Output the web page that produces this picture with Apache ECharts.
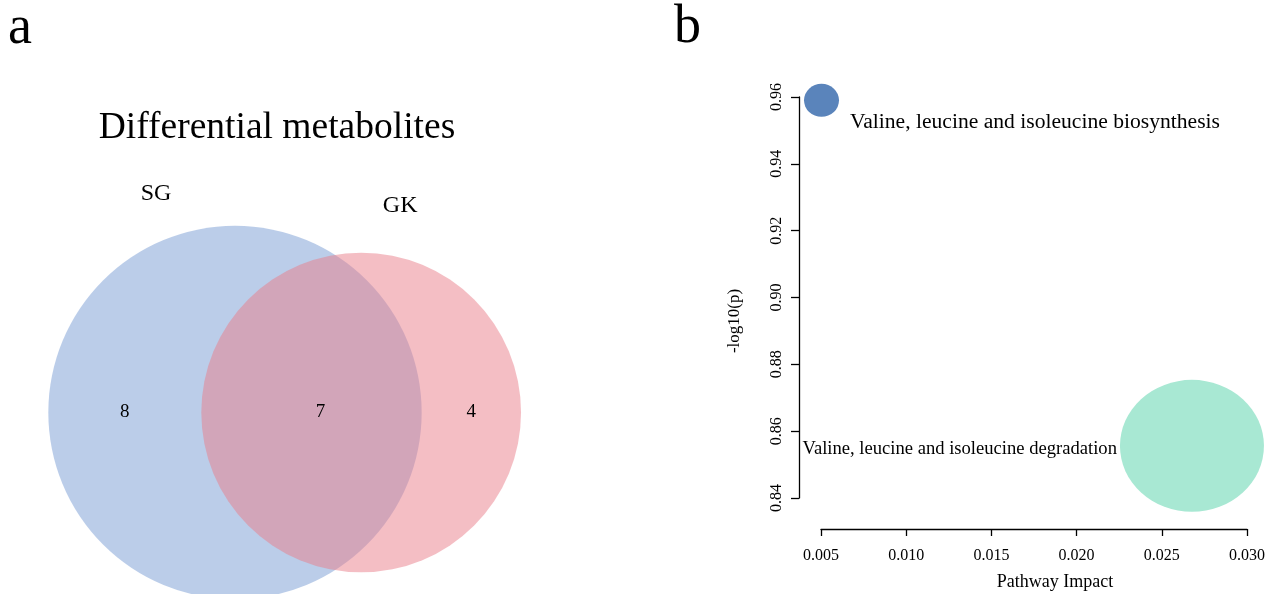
<!DOCTYPE html>
<html><head><meta charset="utf-8">
<script src="https://cdn.jsdelivr.net/npm/echarts@6/dist/echarts.min.js"></script>
<style>html,body{margin:0;padding:0;background:#fff}#c{width:1269px;height:594px}</style>
</head><body><div id="c"></div>
<script>
// ---------- Panel a: Venn diagram ----------
const setNames = ['SG', 'GK'];
const setSizes = [15, 11];          // total in each set
const overlapSize = 7;              // shared
const regionCounts = [8, 7, 4];     // SG only, both, GK only
const vennTitle = 'Differential metabolites';
const panelLetters = ['a', 'b'];

// ---------- Panel b: pathway bubble chart ----------
const pathways = ['Valine, leucine and isoleucine biosynthesis', 'Valine, leucine and isoleucine degradation'];
const pathwayImpact = [0.00503, 0.02677];
const negLog10P = [0.959, 0.8556];
const xTickLabels = ['0.005', '0.010', '0.015', '0.020', '0.025', '0.030'];
const yTickLabels = ['0.84', '0.86', '0.88', '0.90', '0.92', '0.94', '0.96'];
const xAxisTitle = 'Pathway Impact';
const yAxisTitle = '-log10(p)';

// ---------- styles ----------
const FONT = '"Liberation Serif", "DejaVu Serif", serif';
const setColors = ['rgba(120,156,212,0.5)', 'rgba(233,125,137,0.5)'];
const bubbleColors = ['#5a84bb', '#a8e8d3'];
const bubbleSizes = [[35, 33], [144, 132]];
const pxPerSqrt = 48.2; // radius (px) per sqrt(count)

// radii from set sizes (area proportional)
const r1 = pxPerSqrt * Math.sqrt(setSizes[0]);
const r2 = pxPerSqrt * Math.sqrt(setSizes[1]);
function lens(d) {
  if (d >= r1 + r2) return 0;
  if (d <= Math.abs(r1 - r2)) return Math.PI * Math.min(r1, r2) ** 2;
  const a = r1 * r1 * Math.acos((d * d + r1 * r1 - r2 * r2) / (2 * d * r1));
  const b = r2 * r2 * Math.acos((d * d + r2 * r2 - r1 * r1) / (2 * d * r2));
  const c = 0.5 * Math.sqrt((-d + r1 + r2) * (d + r1 - r2) * (d - r1 + r2) * (d + r1 + r2));
  return a + b - c;
}
const targetArea = Math.PI * r1 * r1 * overlapSize / setSizes[0];
let lo = Math.abs(r1 - r2), hi = r1 + r2;
for (let i = 0; i < 80; i++) {
  const mid = (lo + hi) / 2;
  if (lens(mid) > targetArea) lo = mid; else hi = mid;
}
const dist = (lo + hi) / 2;

const circleData = [
  { value: [0, 0], name: setNames[0], symbolSize: 2 * r1,
    itemStyle: { color: setColors[0], opacity: 1 },
    label: { show: true, formatter: setNames[0], position: [r1 - 79, -32] } },
  { value: [dist, 0], name: setNames[1], symbolSize: 2 * r2,
    itemStyle: { color: setColors[1], opacity: 1 },
    label: { show: true, formatter: setNames[1], position: [r2 + 39, -47] } }
];
const regionX = [
  ((-r1) + (dist - r2)) / 2,
  ((dist - r2) + r1) / 2 + 9,
  (r1 + dist + r2) / 2
];
const countData = regionCounts.map((c, i) => ({ value: [regionX[i], 0, c] }));

const bubbleData = pathways.map((p, i) => ({
  name: p,
  value: [pathwayImpact[i], negLog10P[i]],
  symbolSize: bubbleSizes[i],
  itemStyle: { color: bubbleColors[i], opacity: 1 },
  label: i === 0
    ? { show: true, formatter: p, position: [46, 38.5], align: 'left', verticalAlign: 'middle', fontSize: 21.6 }
    : { show: true, formatter: p, position: [-3, 69], align: 'right', verticalAlign: 'middle', fontSize: 18.6 }
}));

const axisLineStyle = { color: '#000', width: 1.3 };

const chart = echarts.init(document.getElementById('c'), null, { renderer: 'canvas' });
chart.setOption({
  backgroundColor: '#fff',
  animation: false,
  textStyle: { fontFamily: FONT, color: '#000' },
  grid: [
    { left: 0, top: 0, width: 720, height: 594 },
    { left: 821, top: 97, width: 426, height: 401 }
  ],
  xAxis: [
    { gridIndex: 0, type: 'value', min: -235, max: 485, show: false },
    { gridIndex: 1, type: 'value', min: 0.005, max: 0.030, interval: 0.005, offset: 31,
      axisLine: { show: true, lineStyle: axisLineStyle },
      axisTick: { show: true, length: 7, lineStyle: axisLineStyle },
      splitLine: { show: false },
      axisLabel: { margin: 19, fontSize: 16, fontFamily: FONT, color: '#000',
        formatter: (v) => xTickLabels.find(t => Math.abs(parseFloat(t) - v) < 1e-9) || '' } }
  ],
  yAxis: [
    { gridIndex: 0, type: 'value', min: -181.5, max: 412.5, show: false },
    { gridIndex: 1, type: 'value', min: 0.84, max: 0.96, interval: 0.02, offset: 22,
      axisLine: { show: true, lineStyle: axisLineStyle },
      axisTick: { show: true, length: 8, lineStyle: axisLineStyle },
      splitLine: { show: false },
      axisLabel: { margin: 14, fontSize: 16, fontFamily: FONT, color: '#000', rotate: 90,
        formatter: (v) => yTickLabels.find(t => Math.abs(parseFloat(t) - v) < 1e-9) || '' } }
  ],
  series: [
    { type: 'scatter', xAxisIndex: 0, yAxisIndex: 0, data: circleData, clip: false,
      symbol: 'circle', silent: true,
      label: { fontSize: 24, fontFamily: FONT, color: '#000', align: 'center', verticalAlign: 'middle' } },
    { type: 'scatter', xAxisIndex: 0, yAxisIndex: 0, data: countData, symbolSize: 0, clip: false,
      silent: true, z: 5, itemStyle: { opacity: 1 },
      label: { show: true, position: 'inside', formatter: (p) => String(p.value[2]),
        fontSize: 19, fontFamily: FONT, color: '#000' } },
    { type: 'scatter', xAxisIndex: 1, yAxisIndex: 1, data: bubbleData, clip: false,
      symbol: 'circle', silent: true,
      label: { fontFamily: FONT, color: '#000' } }
  ],
  graphic: [
    { type: 'text', x: 8, y: 29, style: { text: panelLetters[0], font: '54px ' + FONT, fill: '#000', verticalAlign: 'middle' } },
    { type: 'text', x: 674, y: 28, style: { text: panelLetters[1], font: '54px ' + FONT, fill: '#000', verticalAlign: 'middle' } },
    { type: 'text', x: 277, y: 128, style: { text: vennTitle, font: '37.5px ' + FONT, fill: '#000', align: 'center', verticalAlign: 'middle' } },
    { type: 'text', x: 1055, y: 582, style: { text: xAxisTitle, font: '18px ' + FONT, fill: '#000', align: 'center', verticalAlign: 'middle' } },
    { type: 'text', x: 735, y: 321, rotation: Math.PI / 2, style: { text: yAxisTitle, font: '17px ' + FONT, fill: '#000', align: 'center', verticalAlign: 'middle' } }
  ]
});
</script>
</body></html>
